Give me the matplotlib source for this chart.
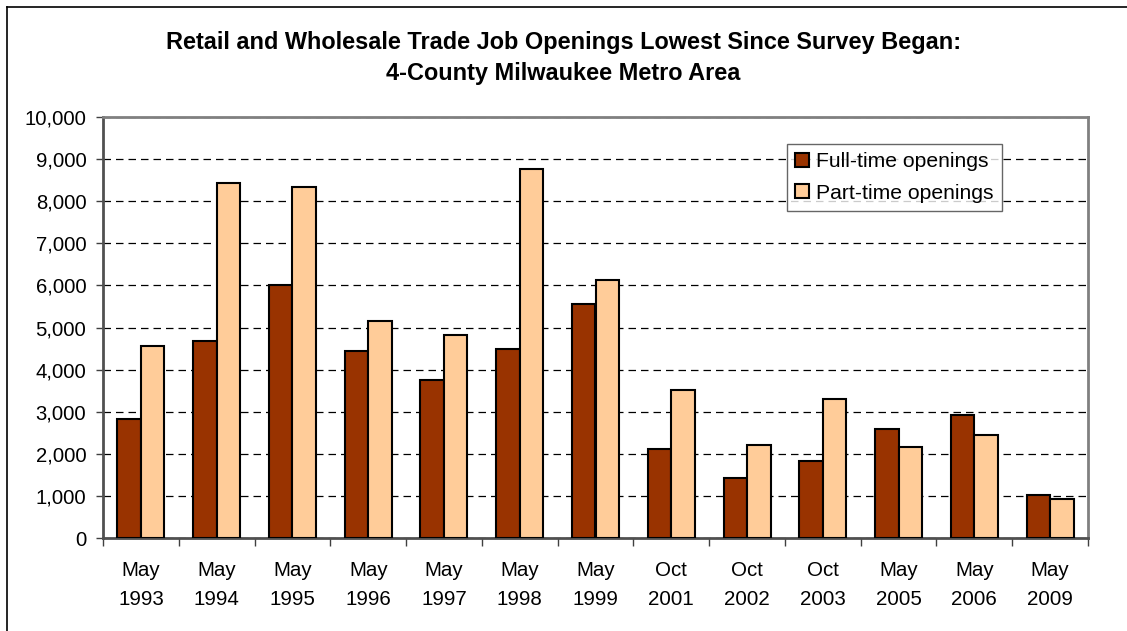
import matplotlib
matplotlib.use("Agg")
import matplotlib.pyplot as plt
from matplotlib.lines import Line2D
from matplotlib.ticker import FuncFormatter, MultipleLocator
import numpy as np

plt.rcParams['font.family'] = ['Liberation Sans', 'DejaVu Sans']

categories = ["May\n1993", "May\n1994", "May\n1995", "May\n1996", "May\n1997", "May\n1998",
              "May\n1999", "Oct\n2001", "Oct\n2002", "Oct\n2003", "May\n2005", "May\n2006", "May\n2009"]
full_time = [2830, 4680, 6020, 4440, 3750, 4500, 5560, 2110, 1430, 1840, 2580, 2920, 1010]
part_time = [4570, 8430, 8340, 5160, 4830, 8760, 6140, 3520, 2210, 3300, 2150, 2440, 930]
series_names = ["Full-time openings", "Part-time openings"]
title = "Retail and Wholesale Trade Job Openings Lowest Since Survey Began:\n4-County Milwaukee Metro Area"

W, H = 1127, 631
fig = plt.figure(figsize=(W / 100, H / 100), dpi=100)
ax = fig.add_axes([103 / W, (H - 538) / H, (1088 - 103) / W, (538 - 117) / H])

x = np.arange(len(categories))
bw = 0.31
ax.bar(x - bw / 2, full_time, bw, color="#993300", edgecolor="black", linewidth=1.5,
       label=series_names[0], zorder=3)
ax.bar(x + bw / 2, part_time, bw, color="#FFCC99", edgecolor="black", linewidth=1.5,
       label=series_names[1], zorder=3)

ax.set_xlim(-0.5, len(categories) - 0.5)
ax.set_ylim(0, 10000)
ax.yaxis.set_major_locator(MultipleLocator(1000))
ax.yaxis.set_major_formatter(FuncFormatter(lambda v, p: f"{int(v):,}"))
ax.grid(axis="y", color="black", linestyle=(0, (6, 4)), linewidth=0.9, zorder=1)

ax.set_xticks(x)
ax.set_xticklabels(categories, fontsize=14.8, linespacing=1.65)
ax.set_xticks(np.arange(-0.5, len(categories), 1), minor=True)
ax.tick_params(axis="x", which="major", length=0, pad=16.5)
ax.tick_params(axis="x", which="minor", length=6, width=1, color="#404040", direction="out")
ax.tick_params(axis="y", labelsize=14.6, length=5, width=1, color="#404040", pad=7)

for s in ax.spines.values():
    s.set_color("#808080")
    s.set_linewidth(2)
ax.spines["left"].set_color("#505050")
ax.spines["bottom"].set_color("#505050")

leg = ax.legend(loc="upper left", bbox_to_anchor=((787 - 103) / 985, (538 - 144) / 421),
                fontsize=15.2, frameon=True, fancybox=False, handlelength=0.66, handleheight=0.66,
                handletextpad=0.3, borderpad=0.4, labelspacing=0.58, borderaxespad=0)
leg.get_frame().set_edgecolor("#404040")
leg.get_frame().set_linewidth(1)

fig.text(0.5, (H - 58) / H, title, ha="center", va="center", fontsize=16.9,
         fontweight="bold", linespacing=1.48)

fig.add_artist(Line2D([7 / W, 1], [(H - 7) / H, (H - 7) / H], color="black", linewidth=1.2,
                      transform=fig.transFigure))
fig.add_artist(Line2D([7 / W, 7 / W], [0, (H - 7) / H], color="black", linewidth=1.2,
                      transform=fig.transFigure))

fig.savefig("out.png", dpi=100)
